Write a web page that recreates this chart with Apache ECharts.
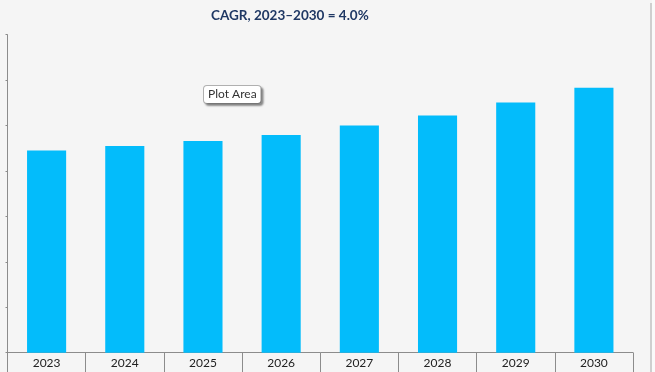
<!DOCTYPE html>
<html>
<head>
<meta charset="utf-8">
<script src="https://cdn.jsdelivr.net/npm/echarts@6/dist/echarts.min.js"></script>
<style>
html,body{margin:0;padding:0;background:#f5f5f5;}
#chart{width:655px;height:372px;}
</style>
</head>
<body>
<div id="chart"></div>
<script>
const categories = ['2023','2024','2025','2026','2027','2028','2029','2030'];
const values = [4.45, 4.55, 4.66, 4.79, 5.00, 5.22, 5.51, 5.83];
const titleText = 'CAGR, 2023–2030 = 4.0%';
const calloutText = 'Plot Area';

const chart = echarts.init(document.getElementById('chart'), null, {renderer:'canvas'});
chart.setOption({
  backgroundColor: '#f5f5f5',
  animation: false,
  title: {
    text: titleText,
    left: 206, top: 4,
    textStyle: {fontFamily: 'Lato', fontSize: 13.5, fontWeight: 'bold', color: '#1F3864'}
  },
  grid: {left: 7.5, right: 22, top: 34.7, bottom: 19.3},
  xAxis: {
    type: 'category',
    data: categories,
    axisLine: {lineStyle: {color: '#8c8c8c', width: 1}},
    axisTick: {show: true, length: 20, lineStyle: {color: '#8c8c8c'}},
    axisLabel: {margin: 4, fontSize: 12, color: '#222', fontFamily: 'Lato'}
  },
  yAxis: {
    type: 'value', min: 0, max: 7, interval: 1,
    axisLine: {show: true, lineStyle: {color: '#8c8c8c', width: 1}},
    axisTick: {show: true, length: 2, lineStyle: {color: '#8c8c8c'}},
    axisLabel: {show: false},
    splitLine: {show: false}
  },
  series: [{
    type: 'bar',
    data: values,
    barWidth: '50%',
    itemStyle: {color: '#03BCFB'}
  }],
  graphic: [
    {type: 'rect', left: 650, top: 3, shape: {width: 2, height: 369}, style: {fill: '#cfcfcf'}, z: 100},
    {type: 'rect', left: 652, top: 0, shape: {width: 3, height: 372}, style: {fill: '#fafafa'}, z: 100},
    {
      type: 'text', left: 203, top: 85, z: 100,
      style: {
        text: calloutText,
        font: '12px Lato',
        fill: '#333',
        backgroundColor: '#ffffff',
        borderColor: '#b0b0b0', borderWidth: 1, borderRadius: 3,
        padding: [2, 4, 3, 4],
        shadowColor: 'rgba(0,0,0,0.35)', shadowBlur: 2, shadowOffsetX: 2, shadowOffsetY: 2
      }
    }
  ]
});
</script>
</body>
</html>
